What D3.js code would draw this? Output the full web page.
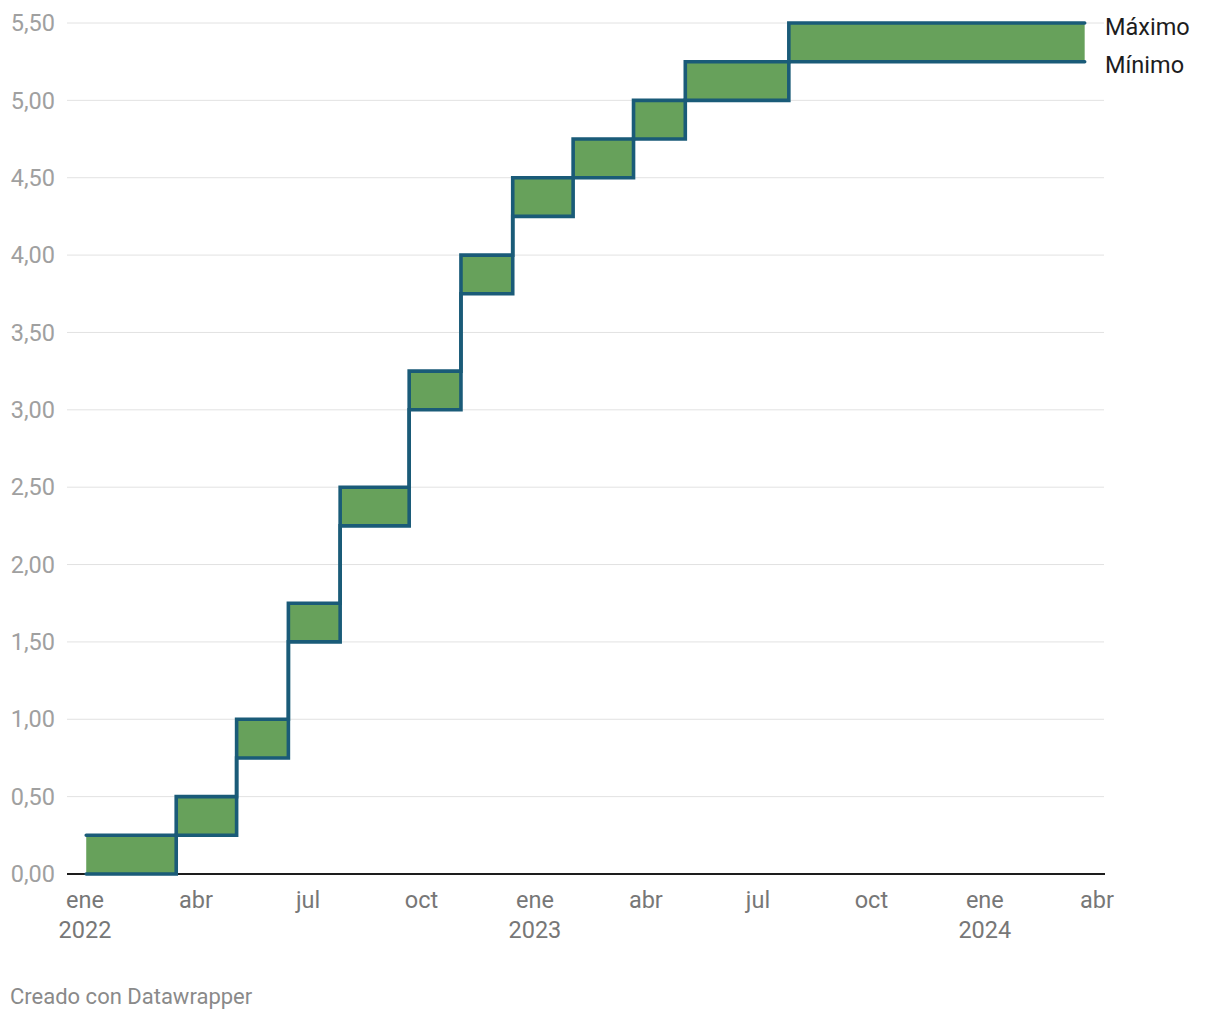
<!DOCTYPE html>
<html><head><meta charset="utf-8">
<script src="https://cdn.jsdelivr.net/npm/d3@7"></script>
<style>
body{margin:0;background:#fff;font-family:Roboto,"Noto Sans",sans-serif;}
svg{display:block}
</style></head>
<body>
<svg id="c" width="1220" height="1020"></svg>
<script>
// Data: Fed funds target range (effective dates)
const dates = ["2022-01-02","2022-03-16","2022-05-04","2022-06-15","2022-07-27","2022-09-21","2022-11-02","2022-12-14","2023-02-01","2023-03-22","2023-05-03","2023-07-26","2024-03-22"];
const maxValues = [0.25,0.50,1.00,1.75,2.50,3.25,4.00,4.50,4.75,5.00,5.25,5.50,5.50];
const minValues = [0.00,0.25,0.75,1.50,2.25,3.00,3.75,4.25,4.50,4.75,5.00,5.25,5.25];
const yTicks = [0,0.5,1,1.5,2,2.5,3,3.5,4,4.5,5,5.5];
const xTickDates = ["2022-01-01","2022-04-01","2022-07-01","2022-10-01","2023-01-01","2023-04-01","2023-07-01","2023-10-01","2024-01-01","2024-04-01"];
const xTickLabels = ["ene","abr","jul","oct","ene","abr","jul","oct","ene","abr"];
const xTickYears = ["2022","","","","2023","","","","2024",""];
const seriesLabels = ["Máximo","Mínimo"];

const parse = d3.utcParse("%Y-%m-%d");
const data = dates.map((d,i)=>({date:parse(d),max:maxValues[i],min:minValues[i]}));

const svg = d3.select("#c");
const left = 67, right = 1104;
const x = d3.scaleUtc().domain([parse("2022-01-01"),parse("2024-04-01")]).range([85,1097]);
const y = d3.scaleLinear().domain([0,5.5]).range([874,23]);

// gridlines
svg.append("g").selectAll("line").data(yTicks.filter(t=>t>0)).join("line")
  .attr("x1",left).attr("x2",right)
  .attr("y1",d=>y(d)).attr("y2",d=>y(d))
  .attr("stroke","#e2e2e2").attr("stroke-width",1);

// y labels
svg.append("g").selectAll("text").data(yTicks).join("text")
  .attr("x",55).attr("y",d=>y(d)).attr("dy","0.35em")
  .attr("text-anchor","end").attr("fill","#a0a0a0")
  .style("font-size","23.5px")
  .text(d=>d3.format(".2f")(d).replace(".",","));

// x labels
const xg = svg.append("g");
xTickDates.forEach((d,i)=>{
  const t = xg.append("text").attr("x",x(parse(d))).attr("y",908)
    .attr("text-anchor","middle").attr("fill","#777").style("font-size","23.5px");
  t.append("tspan").attr("x",x(parse(d))).text(xTickLabels[i]);
  if (xTickYears[i]) t.append("tspan").attr("x",x(parse(d))).attr("dy",30).text(xTickYears[i]);
});

// baseline
svg.append("line").attr("x1",left).attr("x2",right+1).attr("y1",y(0)).attr("y2",y(0))
  .attr("stroke","#1d1d1d").attr("stroke-width",2);

// area
const area = d3.area().curve(d3.curveStepAfter)
  .x(d=>x(d.date)).y0(d=>y(d.min)).y1(d=>y(d.max));
svg.append("path").datum(data).attr("d",area).attr("fill","#67a15b");

const lineMax = d3.line().curve(d3.curveStepAfter).x(d=>x(d.date)).y(d=>y(d.max));
const lineMin = d3.line().curve(d3.curveStepAfter).x(d=>x(d.date)).y(d=>y(d.min));
[lineMax,lineMin].forEach(l=>{
  svg.append("path").datum(data).attr("d",l).attr("fill","none")
    .attr("stroke","#1a5b78").attr("stroke-width",3.6)
    .attr("stroke-linejoin","miter").attr("stroke-linecap","round");
});

// series labels
const last = data[data.length-1];
svg.append("text").attr("x",1105).attr("y",y(last.max)).attr("dy","0.5em")
  .attr("fill","#1d1d1d").style("font-size","23.5px").text(seriesLabels[0]);
svg.append("text").attr("x",1105).attr("y",y(last.min)).attr("dy","0.5em")
  .attr("fill","#1d1d1d").style("font-size","23.5px").text(seriesLabels[1]);

// footer
svg.append("text").attr("x",10).attr("y",1004).attr("fill","#8a8a8a")
  .style("font-size","22px").text("Creado con Datawrapper");
</script>
</body></html>
